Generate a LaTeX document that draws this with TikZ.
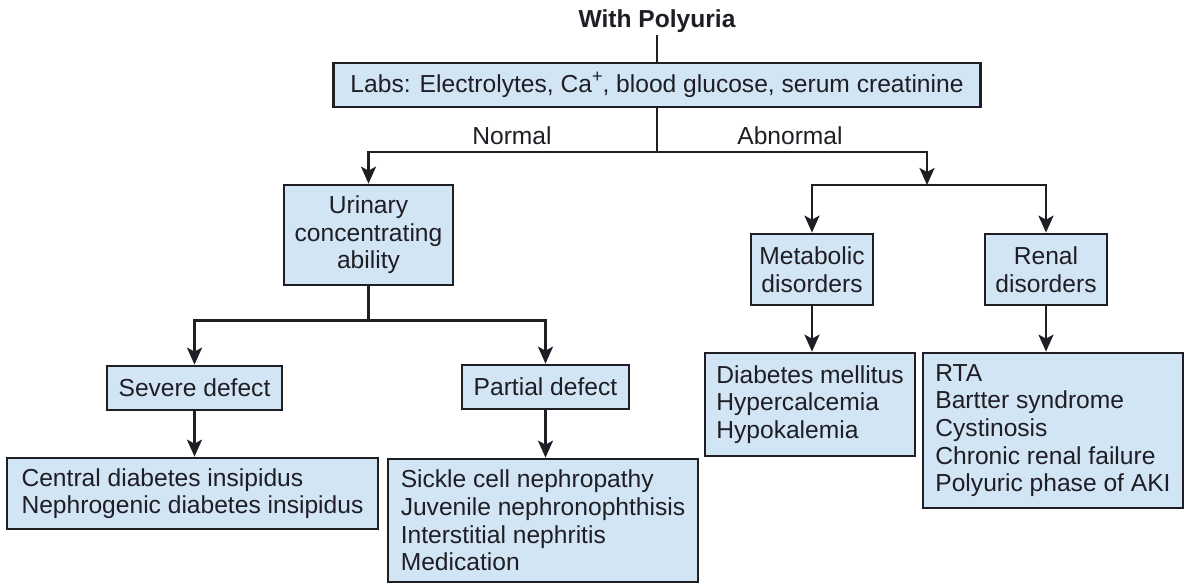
\documentclass[tikz,border=0pt]{standalone}
\usepackage{fontspec}
\setmainfont{Liberation Sans}
\usetikzlibrary{arrows.meta}
\definecolor{boxfill}{HTML}{D2E5F5}
\definecolor{ink}{HTML}{1E1E24}
\newcommand{\plussup}{\raisebox{0.38em}{\fontsize{18bp}{18bp}\selectfont +}}
\begin{document}
\begin{tikzpicture}[x=1bp,y=-1bp,
  every node/.style={font=\fontsize{24.6bp}{27.6bp}\selectfont, text=ink},
  bx/.style={draw=ink, fill=boxfill, line width=2.7bp, inner sep=0pt, align=center},
  lst/.style={bx, align=left},
  conn/.style={draw=ink, line width=2.7bp},
  arr/.style={conn, -{Stealth[length=17bp,width=15bp,inset=4bp]}},
]
\useasboundingbox (0,0) rectangle (1189,583);

\node[anchor=base, inner sep=2bp, font=\fontsize{24.6bp}{27.6bp}\selectfont\bfseries] (title) at (657,28) {With Polyuria};
\node[bx, minimum width=647bp, minimum height=44bp] (labs) at (657,85) {Labs: Electrolytes, Ca\plussup, blood glucose, serum creatinine};

\node[anchor=base] (nlab) at (512,145) {Normal};
\node[anchor=base] (alab) at (790,145) {Abnormal};

\node[bx, minimum width=169bp, minimum height=100bp] (uri) at (368.5,235) {Urinary\\concentrating\\ability};
\node[bx, minimum width=175bp, minimum height=44bp] (sev) at (194.5,388) {Severe defect};
\node[bx, minimum width=167bp, minimum height=44bp] (par) at (545.5,387) {Partial defect};
\node[lst, minimum width=371bp, minimum height=71bp] (cen) at (192.5,493.5) {Central diabetes insipidus\\Nephrogenic diabetes insipidus};
\node[lst, minimum width=310bp, minimum height=123bp] (plist) at (543,520.5) {Sickle cell nephropathy\\Juvenile nephronophthisis\\Interstitial nephritis\\Medication};

\node[bx, minimum width=122bp, minimum height=71bp] (met) at (812,269.5) {Metabolic\\disorders};
\node[bx, minimum width=122bp, minimum height=71bp] (ren) at (1046,269.5) {Renal\\disorders};
\node[lst, minimum width=210bp, minimum height=103bp] (dlist) at (810,404.5) {Diabetes mellitus\\Hypercalcemia\\Hypokalemia};
\node[lst, minimum width=260bp, minimum height=155bp] (rlist) at (1053,430.5) {RTA\\Bartter syndrome\\Cystinosis\\Chronic renal failure\\Polyuric phase of AKI};

\coordinate (j1) at (657,152);
\coordinate (j2) at (927,185);
\path (uri.south) ++(0,34) coordinate (j3);

\draw[conn] (title.south) -- (labs.north);
\draw[conn] (labs.south) -- (j1);
\draw[arr] (j1) -| (uri.north);
\draw[arr] (j1) -| (j2);
\draw[arr] (j2) -| (met.north);
\draw[arr] (j2) -| (ren.north);
\draw[conn] (uri.south) -- (j3);
\draw[arr] (j3) -| (sev.north);
\draw[arr] (j3) -| (par.north);
\draw[arr] (sev.south) -- (sev.south |- cen.north);
\draw[arr] (par.south) -- (par.south |- plist.north);
\draw[arr] (met.south) -- (met.south |- dlist.north);
\draw[arr] (ren.south) -- (ren.south |- rlist.north);
\end{tikzpicture}
\end{document}
